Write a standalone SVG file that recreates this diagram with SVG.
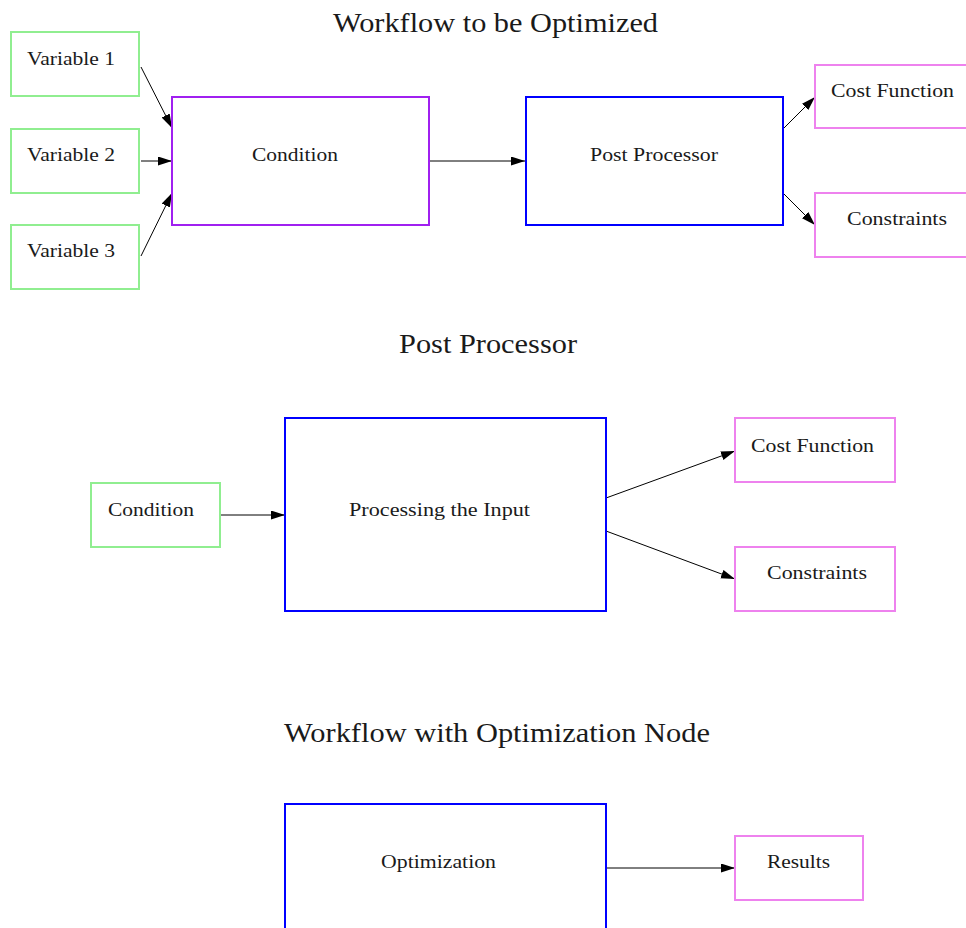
<svg xmlns="http://www.w3.org/2000/svg" width="966" height="928" viewBox="0 0 966 928">
  <style>
    .box { fill: #ffffff; stroke-width: 2; }
    .input { stroke: #90EE90; }
    .cond { stroke: #A020F0; }
    .proc { stroke: #0000FF; }
    .out { stroke: #EE82EE; }
    .lbl { font-family: "Liberation Serif", "Times New Roman", serif; font-size: 19px; fill: #1a1a1a; }
    .title { font-family: "Liberation Serif", "Times New Roman", serif; font-size: 27px; fill: #1a1a1a; }
    .edge { stroke: #000000; stroke-width: 1; fill: none; marker-end: url(#arrow); }
  </style>
  <defs>
    <marker id="arrow" markerUnits="userSpaceOnUse" markerWidth="15" markerHeight="10" refX="14" refY="4.5" orient="auto">
      <path d="M0,0 L14,4.5 L0,9 z" fill="#000000"/>
    </marker>
  </defs>
  <rect width="966" height="928" fill="#ffffff"/>

  <!-- section titles -->
  <g id="titles">
    <text class="title" x="333" y="32" textLength="325" lengthAdjust="spacingAndGlyphs">Workflow to be Optimized</text>
    <text class="title" x="399" y="353" textLength="178" lengthAdjust="spacingAndGlyphs">Post Processor</text>
    <text class="title" x="284" y="742" textLength="426" lengthAdjust="spacingAndGlyphs">Workflow with Optimization Node</text>
  </g>

  <!-- connectors -->
  <g id="connectors">
    <line class="edge" x1="141" y1="67" x2="172" y2="128"/>
    <line class="edge" x1="141" y1="161" x2="172" y2="161"/>
    <line class="edge" x1="141" y1="256" x2="172" y2="193"/>
    <line class="edge" x1="429" y1="161" x2="525" y2="161"/>
    <line class="edge" x1="784" y1="128" x2="815" y2="97"/>
    <line class="edge" x1="784" y1="194" x2="815" y2="225"/>

    <line class="edge" x1="220" y1="515" x2="285" y2="515"/>
    <line class="edge" x1="606" y1="498" x2="735" y2="451"/>
    <line class="edge" x1="606" y1="531" x2="735" y2="579"/>

    <line class="edge" x1="606" y1="868" x2="735" y2="868"/>
  </g>

  <!-- workflow to be optimized -->
  <g id="var1">
    <rect class="box input" x="11" y="32" width="128" height="64"/>
    <text class="lbl" x="27" y="65" textLength="88" lengthAdjust="spacingAndGlyphs">Variable 1</text>
  </g>
  <g id="var2">
    <rect class="box input" x="11" y="129" width="128" height="64"/>
    <text class="lbl" x="27" y="161" textLength="88" lengthAdjust="spacingAndGlyphs">Variable 2</text>
  </g>
  <g id="var3">
    <rect class="box input" x="11" y="225" width="128" height="64"/>
    <text class="lbl" x="27" y="257" textLength="88" lengthAdjust="spacingAndGlyphs">Variable 3</text>
  </g>
  <g id="condition">
    <rect class="box cond" x="172" y="97" width="257" height="128"/>
    <text class="lbl" x="252" y="161" textLength="86" lengthAdjust="spacingAndGlyphs">Condition</text>
  </g>
  <g id="post-processor">
    <rect class="box proc" x="526" y="97" width="257" height="128"/>
    <text class="lbl" x="590" y="161" textLength="128" lengthAdjust="spacingAndGlyphs">Post Processor</text>
  </g>
  <g id="cost-function">
    <rect class="box out" x="815" y="65" width="160" height="63"/>
    <text class="lbl" x="831" y="97" textLength="123" lengthAdjust="spacingAndGlyphs">Cost Function</text>
  </g>
  <g id="constraints">
    <rect class="box out" x="815" y="193" width="160" height="64"/>
    <text class="lbl" x="847" y="225" textLength="100" lengthAdjust="spacingAndGlyphs">Constraints</text>
  </g>

  <!-- post processor detail -->
  <g id="pp-condition">
    <rect class="box input" x="91" y="483" width="129" height="64"/>
    <text class="lbl" x="108" y="516" textLength="86" lengthAdjust="spacingAndGlyphs">Condition</text>
  </g>
  <g id="pp-processing">
    <rect class="box proc" x="285" y="418" width="321" height="193"/>
    <text class="lbl" x="349" y="516" textLength="181" lengthAdjust="spacingAndGlyphs">Processing the Input</text>
  </g>
  <g id="pp-cost-function">
    <rect class="box out" x="735" y="418" width="160" height="64"/>
    <text class="lbl" x="751" y="452" textLength="123" lengthAdjust="spacingAndGlyphs">Cost Function</text>
  </g>
  <g id="pp-constraints">
    <rect class="box out" x="735" y="547" width="160" height="64"/>
    <text class="lbl" x="767" y="579" textLength="100" lengthAdjust="spacingAndGlyphs">Constraints</text>
  </g>

  <!-- workflow with optimization node -->
  <g id="optimization">
    <rect class="box proc" x="285" y="804" width="321" height="193"/>
    <text class="lbl" x="381" y="868" textLength="115" lengthAdjust="spacingAndGlyphs">Optimization</text>
  </g>
  <g id="results">
    <rect class="box out" x="735" y="836" width="128" height="64"/>
    <text class="lbl" x="767" y="868" textLength="63" lengthAdjust="spacingAndGlyphs">Results</text>
  </g>
</svg>
